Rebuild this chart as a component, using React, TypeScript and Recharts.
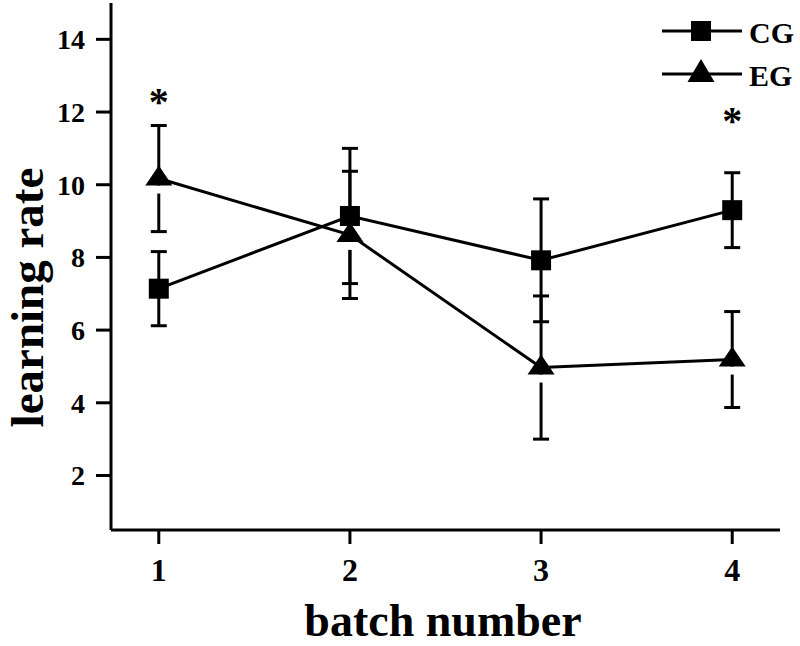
import React from 'react';
import { ComposedChart, Line, XAxis, YAxis, ErrorBar, Scatter, Legend } from 'recharts';

const batches = [1, 2, 3, 4];
const cgMean = [7.14, 9.14, 7.92, 9.3];
const cgErr = [1.02, 1.86, 1.69, 1.03];
const egMean = [10.17, 8.62, 4.97, 5.19];
const egErr = [1.46, 1.75, 1.97, 1.32];
const yTicks = [2, 4, 6, 8, 10, 12, 14];
const xTicks = [1, 2, 3, 4];
const sigBatches = [1, 4];
const sigHeights = [12.43, 11.93];
const seriesNames = ['CG', 'EG'];

const data = batches.map((b, i) => ({
  batch: b,
  cg: cgMean[i],
  cgErr: cgErr[i],
  eg: egMean[i],
  egErr: egErr[i],
}));
const sigData = sigBatches.map((b, i) => ({ batch: b, y: sigHeights[i] }));

const FONT = '"Liberation Serif", "Times New Roman", serif';

const SquareDot = (p: any) => {
  const { cx, cy } = p;
  if (cx == null || cy == null) return <g key={`sq-${p.index}`} />;
  return <rect key={`sq-${p.index}`} x={cx - 10} y={cy - 10} width={20} height={20} fill="#000" />;
};

const TriDot = (p: any) => {
  const { cx, cy } = p;
  if (cx == null || cy == null) return <g key={`tri-${p.index}`} />;
  return (
    <g key={`tri-${p.index}`}>
      <rect x={cx - 4} y={cy + 7} width={8} height={8} fill="#fff" />
      <polygon points={`${cx},${cy - 13} ${cx - 13.5},${cy + 7} ${cx + 13.5},${cy + 7}`} fill="#000" />
    </g>
  );
};

const YTick = (p: any) => (
  <text x={p.x} y={p.y} dy="0.35em" textAnchor="end" fontFamily={FONT} fontWeight="bold" fontSize={28} fill="#000">
    {p.payload.value}
  </text>
);

const XTick = (p: any) => (
  <text x={p.x} y={p.y + 35} textAnchor="middle" fontFamily={FONT} fontWeight="bold" fontSize={32} fill="#000">
    {p.payload.value}
  </text>
);

const YLab = (p: any) => {
  const vb = p.viewBox || { x: 0, y: 3 };
  const x = vb.x + 43;
  const y = vb.y + 294.5;
  return (
    <text x={x} y={y} transform={`rotate(-90 ${x} ${y})`} textAnchor="middle" fontFamily={FONT} fontWeight="bold" fontSize={47} fill="#000">
      learning rate
    </text>
  );
};

const XLab = (p: any) => {
  const vb = p.viewBox || { x: 111, y: 530 };
  return (
    <text x={vb.x + 332} y={vb.y + 106} textAnchor="middle" fontFamily={FONT} fontWeight="bold" fontSize={46} fill="#000">
      batch number
    </text>
  );
};

const Star = (p: any) => {
  const { cx, cy } = p;
  if (cx == null || cy == null) return <g />;
  return (
    <text x={cx} y={cy + 19} textAnchor="middle" fontFamily={FONT} fontWeight="bold" fontSize={40} fill="#000">
      *
    </text>
  );
};

const LegendBox = () => (
  <svg width={150} height={100} style={{ display: 'block', overflow: 'visible' }}>
    <line x1={12} y1={31} x2={92} y2={31} stroke="#000" strokeWidth={3} />
    <rect x={41} y={21} width={20} height={20} fill="#000" />
    <text x={99} y={43} fontFamily={FONT} fontWeight="bold" fontSize={30} fill="#000">{seriesNames[0]}</text>
    <line x1={12} y1={74} x2={92} y2={74} stroke="#000" strokeWidth={3} />
    <polygon points="51,59 37.5,82 64.5,82" fill="#000" />
    <text x={99} y={86} fontFamily={FONT} fontWeight="bold" fontSize={30} fill="#000">{seriesNames[1]}</text>
  </svg>
);

export default function App() {
  return (
    <div style={{ position: 'absolute', left: 0, top: 0, width: 800, height: 646, background: '#fff' }}>
      <ComposedChart width={800} height={646} data={data} margin={{ top: 3, right: 20, bottom: 0, left: 0 }}>
        <XAxis
          dataKey="batch"
          type="number"
          domain={[0.75, 4.25]}
          ticks={xTicks}
          height={116}
          tickSize={14}
          tickMargin={2}
          axisLine={{ stroke: '#000', strokeWidth: 3 }}
          tickLine={{ stroke: '#000', strokeWidth: 3 }}
          tick={<XTick />}
          label={XLab}
          allowDataOverflow
        />
        <YAxis
          type="number"
          domain={[0.5, 15]}
          ticks={yTicks}
          width={111}
          tickSize={15}
          tickMargin={11}
          axisLine={{ stroke: '#000', strokeWidth: 3 }}
          tickLine={{ stroke: '#000', strokeWidth: 3 }}
          tick={<YTick />}
          label={YLab}
          allowDataOverflow
        />
        <Legend
          layout="horizontal"
          verticalAlign="middle"
          align="center"
          wrapperStyle={{ position: 'absolute', left: 650, top: 0, width: 0, height: 0, overflow: 'visible' }}
          content={LegendBox}
        />
        <Line
          dataKey="eg"
          name={seriesNames[1]}
          stroke="#000"
          strokeWidth={3}
          dot={TriDot}
          activeDot={false}
          isAnimationActive={false}
        >
          <ErrorBar dataKey="egErr" direction="y" width={8} strokeWidth={3} stroke="#000" />
        </Line>
        <Line
          dataKey="cg"
          name={seriesNames[0]}
          stroke="#000"
          strokeWidth={3}
          dot={SquareDot}
          activeDot={false}
          isAnimationActive={false}
        >
          <ErrorBar dataKey="cgErr" direction="y" width={8} strokeWidth={3} stroke="#000" />
        </Line>
        <Scatter data={sigData} dataKey="y" shape={Star} isAnimationActive={false} legendType="none" />
      </ComposedChart>
    </div>
  );
}
